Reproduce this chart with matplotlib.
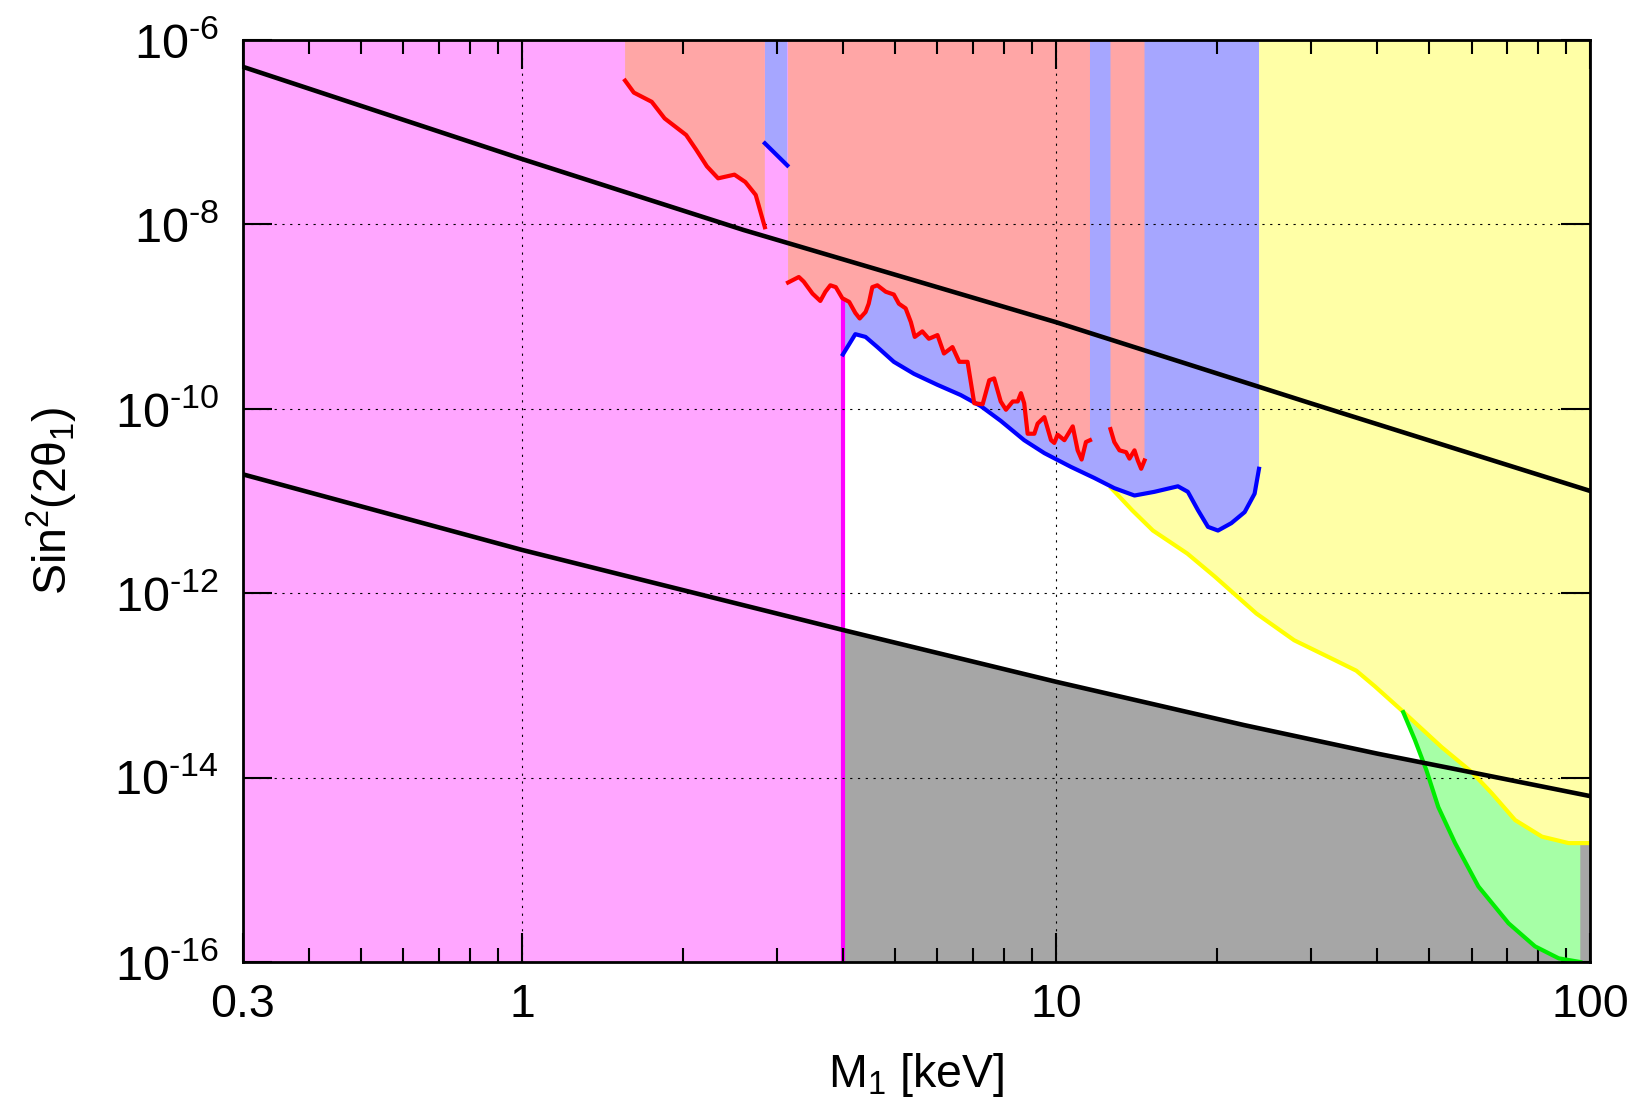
import numpy as np
import matplotlib
matplotlib.use("Agg")
import matplotlib.pyplot as plt
from matplotlib.ticker import LogLocator, NullLocator, NullFormatter, FixedLocator

plt.rcParams['font.family'] = ['Liberation Sans', 'DejaVu Sans']
plt.rcParams['mathtext.fontset'] = 'custom'
plt.rcParams['mathtext.rm'] = 'Liberation Sans'
plt.rcParams['mathtext.it'] = 'Liberation Sans:italic'

# ---- data (mass in keV, sin^2 given as log10) ----
# red bound, three pieces
red1_m = [1.56, 1.62, 1.75, 1.85, 2.03, 2.12, 2.22, 2.33, 2.50, 2.62, 2.74, 2.85]
red1_s = [-6.44, -6.57, -6.67, -6.85, -7.03, -7.19, -7.37, -7.50, -7.46, -7.54, -7.68, -8.03]
red2_m = [3.15, 3.30, 3.37, 3.50, 3.62, 3.70, 3.78, 3.87, 3.98, 4.10, 4.21, 4.29, 4.40, 4.46,
          4.53, 4.63, 4.80, 4.97, 5.08, 5.23, 5.35, 5.44, 5.62, 5.78, 6.00, 6.17, 6.40, 6.59,
          6.83, 7.03, 7.29, 7.50, 7.66, 7.88, 8.06, 8.30, 8.48, 8.60, 8.72, 8.85, 9.11, 9.24,
          9.51, 9.79, 9.93, 10.07, 10.37, 10.75, 10.98, 11.17, 11.38, 11.58]
red2_s = [-8.63, -8.57, -8.62, -8.75, -8.83, -8.73, -8.66, -8.68, -8.80, -8.84, -8.96, -9.02,
          -8.95, -8.86, -8.68, -8.66, -8.73, -8.76, -8.86, -8.91, -9.06, -9.22, -9.16, -9.24,
          -9.20, -9.40, -9.33, -9.49, -9.49, -9.94, -9.95, -9.69, -9.67, -9.92, -10.01, -9.92,
          -9.92, -9.83, -9.94, -10.27, -10.27, -10.16, -10.09, -10.34, -10.37, -10.28, -10.34,
          -10.19, -10.45, -10.55, -10.36, -10.34]
red3_m = [12.65, 12.86, 13.15, 13.53, 13.73, 14.03, 14.23, 14.44, 14.65]
red3_s = [-10.22, -10.36, -10.45, -10.47, -10.54, -10.45, -10.56, -10.65, -10.56]

# blue bound, two pieces
blue1_m = [2.85, 3.14]
blue1_s = [-7.12, -7.36]
blue2_m = [3.99, 4.21, 4.40, 4.63, 4.97, 5.42, 6.00, 6.63, 7.23, 7.88, 8.72, 9.51, 10.67,
           11.80, 12.86, 14.03, 15.29, 16.92, 17.66, 18.45, 19.26, 20.11, 21.30, 22.56, 23.55, 24.0]
blue2_s = [-9.41, -9.19, -9.22, -9.33, -9.49, -9.62, -9.74, -9.85, -9.97, -10.13, -10.34,
           -10.48, -10.63, -10.75, -10.86, -10.94, -10.90, -10.84, -10.90, -11.10, -11.28,
           -11.32, -11.24, -11.12, -10.92, -10.65]

# yellow bound
yel_m = [12.69, 12.89, 13.89, 15.19, 17.62, 19.84, 23.73, 27.93, 33.41, 36.51, 39.56, 44.39,
         52.77, 60.07, 65.49, 72.4, 81.3, 91.2, 100.0]
yel_s = [-10.86, -10.90, -11.10, -11.32, -11.57, -11.82, -12.22, -12.51, -12.73, -12.84,
         -13.01, -13.27, -13.67, -13.94, -14.17, -14.46, -14.64, -14.71, -14.71]

# green bound
grn_m = [44.7, 47.0, 49.4, 52.0, 55.9, 61.8, 70.4, 78.9, 87.4, 95.9]
grn_s = [-13.29, -13.59, -13.92, -14.32, -14.71, -15.18, -15.58, -15.83, -15.96, -16.0]

# black lines
up_m = [0.3, 1, 2.6, 10, 30, 100]
up_s = [-6.29, -7.29, -8.06, -9.06, -9.94, -10.89]
low_m = [0.3, 1, 2.6, 4, 10, 22.5, 40, 60.9, 100]
low_s = [-10.71, -11.53, -12.13, -12.40, -12.96, -13.43, -13.74, -13.95, -14.20]

# lower mass bound (magenta)
tg_mass = 4.0
tg_top = -8.82

xmin, xmax = 0.3, 100
ymin, ymax = 1e-16, 1e-6


def pw(v):
    return 10.0 ** np.asarray(v)


fig = plt.figure(figsize=(16.4, 11.03), dpi=100)
ax = fig.add_axes([0.148, 0.1278, 0.8215, 0.8359])
ax.set_xscale('log')
ax.set_yscale('log')
ax.set_xlim(xmin, xmax)
ax.set_ylim(ymin, ymax)

# magenta region
ax.axvspan(xmin, tg_mass, color='#ffa6ff', lw=0, zorder=1)

# grey region below lower line
gm = [m for m in low_m if m >= tg_mass]
gs = [s for m, s in zip(low_m, low_s) if m >= tg_mass]
ax.fill(gm + [xmax, gm[0]], list(pw(gs)) + [ymin, ymin],
        color='#a6a6a6', lw=0, zorder=1.05)

# yellow region (above yellow curve)
ax.fill(yel_m + [xmax, yel_m[0]], list(pw(yel_s)) + [ymax, ymax],
        color='#ffffa6', lw=0, zorder=1.1)

# blue regions
for m, s in [(blue1_m, blue1_s), (blue2_m, blue2_s)]:
    ax.fill(m + [m[-1], m[0]], list(pw(s)) + [ymax, ymax],
            color='#a6a6ff', lw=0, zorder=1.2)

# magenta boundary line (under red fill)
ax.plot([tg_mass, tg_mass], [ymin, pw(tg_top)], color='#ff00ff', lw=3, zorder=1.3)

# red regions
for m, s in [(red1_m, red1_s), (red2_m, red2_s), (red3_m, red3_s)]:
    ax.fill(m + [m[-1], m[0]], list(pw(s)) + [ymax, ymax],
            color='#ffa6a6', lw=0, zorder=1.4)

# grey strip at the right edge
ax.fill([grn_m[-1], xmax, xmax, grn_m[-1]], [ymin, ymin, pw(yel_s[-1]), pw(yel_s[-1])],
        color='#a6a6a6', lw=0, zorder=1.5)

# green region between green and yellow curves
ym_back = [m for m in yel_m if grn_m[0] < m < grn_m[-1]][::-1]
ys_back = [s for m, s in zip(yel_m, yel_s) if grn_m[0] < m < grn_m[-1]][::-1]
ax.fill(grn_m + [grn_m[-1]] + ym_back,
        list(pw(grn_s)) + [pw(yel_s[-1])] + list(pw(ys_back)),
        color='#a6ffa6', lw=0, zorder=1.6)

# curves
ax.plot(yel_m, pw(yel_s), color='#ffff00', lw=3, zorder=3, solid_joinstyle='round')
ax.plot(grn_m, pw(grn_s), color='#00ee00', lw=3, zorder=3, solid_joinstyle='round')
ax.plot(blue1_m, pw(blue1_s), color='#0000ff', lw=3, zorder=3.1)
ax.plot(blue2_m, pw(blue2_s), color='#0000ff', lw=3, zorder=3.1, solid_joinstyle='round')
for m, s in [(red1_m, red1_s), (red2_m, red2_s), (red3_m, red3_s)]:
    ax.plot(m, pw(s), color='#ff0000', lw=3, zorder=3.2, solid_joinstyle='round')
ax.plot(up_m, pw(up_s), color='black', lw=3.3, zorder=4)
ax.plot(low_m, pw(low_s), color='black', lw=3.3, zorder=4)

# ticks and grid
ax.xaxis.set_major_locator(FixedLocator([0.3, 1, 10, 100]))
ax.set_xticklabels(['0.3', '1', '10', '100'])
ax.xaxis.set_minor_locator(LogLocator(base=10, subs=np.arange(2, 10)))
ax.xaxis.set_minor_formatter(NullFormatter())
yt = [1e-16, 1e-14, 1e-12, 1e-10, 1e-8, 1e-6]
ax.yaxis.set_major_locator(FixedLocator(yt))
ax.set_yticklabels([r'$\mathregular{10^{\text{-%d}}}$' % k for k in [16, 14, 12, 10, 8, 6]])
ax.yaxis.set_minor_locator(NullLocator())
ax.tick_params(which='both', direction='in', top=True, right=True, labelsize=33.5, width=1.5)
ax.tick_params(which='major', length=21, pad=15)
ax.tick_params(axis='y', which='major', labelsize=35, pad=17)
ax.tick_params(which='minor', length=10)
ax.set_axisbelow(False)
ax.grid(True, which='major', color='black', lw=0.8, ls=(0, (2, 5)))
for sp in ax.spines.values():
    sp.set_linewidth(2)
    sp.set_zorder(5)

ax.set_xlabel('M$_1$ [keV]', fontsize=33.5)
ax.set_ylabel('Sin$^2$(2θ$_1$)', fontsize=33.5)
ax.xaxis.set_label_coords(0.5, -0.097)
ax.yaxis.set_label_coords(-0.121, 0.5)

fig.savefig('out.png', dpi=100)
